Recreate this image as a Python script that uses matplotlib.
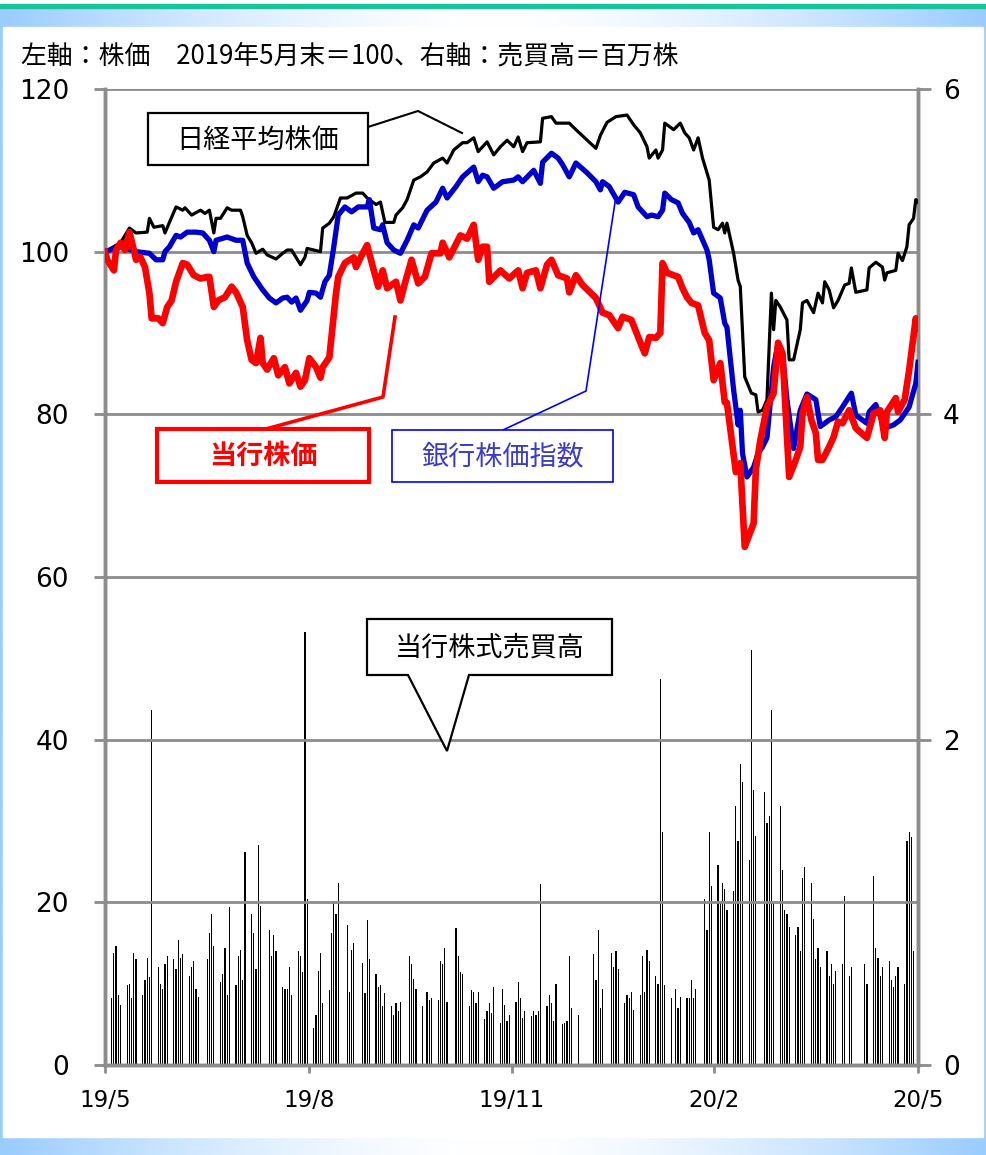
import numpy as np
import pandas as pd
import matplotlib
matplotlib.use("Agg")
import matplotlib.pyplot as plt
from matplotlib.patches import Rectangle, Polygon
from matplotlib.lines import Line2D

plt.rcParams['font.family'] = ['Noto Sans CJK JP', 'DejaVu Sans']

# ---------------- data ----------------
start_date = "2019-05-31"
end_date = "2020-05-31"
x_ticks_days = [0, 92, 183, 274, 366]
x_tick_labels = ["19/5", "19/8", "19/11", "20/2", "20/5"]

# Nikkei average (index, 2019/5 end = 100): day offset from 2019-05-31, value
nikkei_day = [0, 7, 11, 14, 19, 20, 22, 26, 27, 29, 32, 35, 36, 39, 43, 45, 47, 49, 50, 52,
              55, 57, 61, 62, 64, 66, 68, 71, 73, 77, 80, 82, 84, 86, 88, 90, 91, 94, 97, 98,
              101, 103, 106, 109, 113, 116, 118, 122, 124, 126, 130, 131, 134, 136, 139, 142, 145, 148, 152, 154,
              157, 161, 163, 166, 168, 172, 175, 178, 181, 184, 186, 188, 190, 196, 197, 201, 203, 209, 212, 221,
              223, 226, 230, 235, 238, 241, 244, 245, 248, 249, 251, 252, 256, 259, 261, 263, 265, 267, 269, 272,
              274, 276, 278, 279, 280, 283, 285, 286, 288, 291, 293, 294, 296, 298, 300, 301, 302, 304, 307, 308,
              310, 313, 314, 316, 319, 321, 323, 324, 326, 328, 330, 333, 335, 336, 338, 343, 344, 347, 350, 351,
              352, 356, 357, 359, 361, 362, 364, 365, 366]
nikkei_val = [100.0, 101.1, 102.9, 102.3, 102.4, 104.1, 103.0, 103.2, 102.3, 103.6, 105.5, 105.1, 105.4, 104.5, 105.1, 104.7, 105.1, 102.3, 104.1, 104.1,
              105.4, 105.1, 105.1, 104.3, 102.0, 101.1, 99.8, 100.3, 99.6, 99.1, 99.8, 100.2, 100.2, 99.3, 98.4, 99.3, 100.4, 100.2, 100.0, 102.9,
              103.5, 104.3, 106.6, 106.6, 107.2, 107.2, 106.6, 105.8, 106.1, 103.6, 103.6, 104.5, 105.4, 106.4, 108.8, 109.2, 109.8, 110.9, 111.5, 110.9,
              112.5, 113.4, 113.4, 114.0, 112.3, 113.5, 111.9, 112.9, 113.7, 112.9, 114.1, 112.3, 113.4, 113.5, 116.4, 116.6, 115.8, 115.8, 115.0, 112.7,
              114.3, 115.9, 116.6, 116.8, 115.6, 114.6, 112.9, 111.5, 112.5, 111.5, 112.5, 115.8, 115.0, 115.8, 114.6, 114.0, 112.5, 114.0, 111.5, 108.8,
              103.0, 102.7, 103.5, 102.3, 103.5, 99.8, 96.5, 95.7, 84.6, 82.6, 82.4, 80.3, 80.5, 81.8, 94.9, 90.4, 94.0, 93.2, 91.6, 86.7,
              86.7, 90.4, 93.7, 94.0, 92.5, 94.9, 93.7, 96.3, 95.3, 93.1, 94.0, 95.9, 96.1, 98.0, 95.0, 95.3, 98.0, 98.7, 98.1, 96.5,
              97.4, 97.7, 99.8, 98.9, 100.6, 103.3, 104.1, 106.4, 106.1]

# Bank stock index
bank_day = [0, 7, 14, 20, 23, 26, 27, 29, 32, 34, 37, 41, 44, 47, 49, 50, 55, 59, 62, 64,
            67, 71, 74, 77, 80, 82, 84, 86, 88, 91, 92, 95, 97, 99, 101, 103, 105, 108, 111, 114,
            118, 119, 121, 124, 125, 127, 130, 133, 136, 139, 141, 145, 149, 152, 154, 158, 161, 166, 168, 170,
            172, 175, 179, 184, 186, 188, 193, 196, 197, 201, 204, 206, 209, 212, 217, 221, 223, 224, 227, 231,
            234, 238, 240, 244, 246, 249, 251, 252, 255, 258, 260, 263, 265, 267, 271, 272, 274, 277, 279, 280,
            283, 285, 286, 287, 289, 292, 294, 296, 298, 301, 303, 305, 307, 310, 313, 316, 320, 322, 326, 329,
            332, 336, 338, 343, 344, 347, 351, 355, 358, 359, 362, 365, 366]
bank_val = [100.0, 100.6, 100.0, 99.8, 99.0, 99.0, 100.0, 100.6, 102.0, 101.8, 102.4, 102.4, 102.3, 101.4, 100.0, 101.4, 101.8, 101.4, 101.4, 98.6,
            96.9, 95.3, 94.3, 93.7, 94.3, 94.4, 93.8, 94.3, 92.8, 94.0, 95.0, 94.9, 94.4, 96.3, 97.1, 100.6, 104.5, 105.5, 104.9, 105.5,
            105.5, 106.4, 102.9, 102.7, 103.3, 101.1, 100.2, 99.8, 101.4, 103.3, 102.9, 105.1, 106.1, 107.8, 106.6, 108.0, 109.2, 110.4, 108.6, 109.4,
            109.2, 107.8, 108.6, 108.8, 109.2, 108.6, 110.0, 108.4, 111.0, 112.1, 111.5, 110.7, 109.2, 110.9, 109.7, 108.6, 107.6, 108.6, 108.0, 106.1,
            107.3, 107.0, 105.5, 104.3, 104.5, 104.3, 105.1, 107.2, 106.4, 106.0, 104.7, 103.6, 102.3, 102.7, 100.2, 99.0, 94.9, 94.3, 91.2, 90.7,
            83.0, 78.7, 80.5, 75.2, 72.3, 73.5, 75.2, 76.0, 77.1, 85.8, 88.8, 87.5, 81.8, 75.8, 80.5, 82.5, 81.8, 78.5, 79.3, 79.7,
            80.9, 82.6, 79.9, 78.9, 80.3, 81.2, 78.3, 78.7, 79.3, 79.7, 80.9, 83.8, 86.4]

# Own bank stock
own_day = [0, 1, 4, 5, 7, 9, 11, 13, 14, 16, 18, 20, 21, 24, 26, 28, 30, 32, 35, 37,
           40, 43, 46, 47, 49, 51, 54, 57, 59, 62, 64, 66, 68, 70, 71, 73, 76, 78, 81, 83,
           86, 88, 90, 92, 95, 97, 98, 101, 104, 105, 108, 112, 113, 116, 118, 121, 123, 125, 127, 131,
           133, 135, 138, 141, 144, 147, 151, 152, 155, 160, 163, 166, 168, 170, 172, 173, 178, 182, 186, 188,
           190, 194, 196, 199, 201, 204, 208, 209, 212, 215, 221, 224, 227, 231, 233, 237, 240, 243, 245, 248,
           250, 251, 253, 258, 260, 262, 264, 267, 270, 272, 274, 277, 279, 280, 284, 286, 288, 292, 293, 295,
           298, 301, 303, 305, 308, 311, 313, 314, 316, 318, 320, 321, 323, 326, 328, 330, 332, 335, 338, 343,
           346, 349, 351, 352, 356, 357, 360, 362, 365, 366]
own_val = [100.0, 99.0, 97.7, 100.2, 101.1, 100.2, 102.4, 100.2, 99.0, 99.3, 98.1, 94.9, 91.8, 91.8, 91.2, 93.2, 94.0, 96.3, 98.6, 98.4,
           97.1, 96.7, 96.9, 96.9, 93.2, 94.0, 94.4, 95.7, 95.0, 93.2, 89.1, 86.7, 86.3, 89.4, 86.3, 85.5, 86.9, 84.8, 85.8, 83.8,
           85.1, 83.4, 84.2, 86.9, 85.8, 84.5, 85.8, 87.0, 94.9, 96.9, 98.6, 99.3, 98.1, 99.8, 100.8, 97.7, 95.7, 97.7, 95.5, 96.3,
           94.0, 96.1, 99.0, 96.1, 96.9, 99.8, 99.8, 101.1, 99.3, 102.0, 101.6, 103.3, 99.0, 100.6, 100.6, 96.3, 97.7, 96.7, 97.7, 95.5,
           97.4, 97.7, 95.5, 98.4, 99.0, 97.1, 96.7, 95.0, 97.1, 95.9, 94.3, 92.5, 92.2, 90.6, 92.0, 91.6, 89.5, 87.5, 89.5, 89.4,
           90.0, 98.6, 97.4, 96.9, 95.5, 94.4, 93.7, 93.4, 90.0, 89.1, 84.2, 86.3, 81.5, 81.4, 72.9, 74.0, 63.7, 66.6, 73.2, 76.8,
           80.9, 82.6, 88.8, 87.5, 72.3, 74.4, 76.0, 80.1, 82.1, 79.3, 77.7, 74.4, 74.4, 76.0, 77.2, 79.1, 78.9, 80.5, 78.3, 77.1,
           80.1, 80.5, 77.1, 80.3, 82.0, 80.3, 81.8, 85.4, 91.8, 90.6]

# Tokyo market holidays within the period (no trading -> no volume bar)
market_holidays = ["2019-07-15", "2019-08-12", "2019-09-16", "2019-09-23", "2019-10-14", "2019-10-22",
                   "2019-11-04", "2019-12-31", "2020-01-01", "2020-01-02", "2020-01-03", "2020-01-13",
                   "2020-02-11", "2020-02-24", "2020-03-20", "2020-04-29", "2020-05-04", "2020-05-05",
                   "2020-05-06"]

# Own stock trading volume (million shares), one value per trading day from 2019-06-03
volume = [0.41, 0.69, 0.73, 0.43, 0.37,
          0.49, 0.50, 0.41, 0.69, 0.65,
          0.43, 0.52, 0.66, 0.54, 2.18,
          0.60, 0.50, 0.47, 0.62, 0.67,
          0.65, 0.59, 0.77, 0.66, 0.68,
          0.55, 0.60, 0.64, 0.47, 0.42,
          0.65, 0.81, 0.93, 0.73,
          0.51, 0.56, 0.72, 0.43, 0.97,
          0.49, 0.67, 0.71, 0.52, 1.31,
          0.93, 0.81, 0.59, 1.35, 0.98,
          0.83, 0.67, 0.80, 0.70,
          0.48, 0.47, 0.47, 0.60, 0.43,
          0.70, 0.67, 0.57, 2.66, 1.02,
          0.23, 0.31, 0.58, 0.69, 0.38,
          0.46, 0.81, 1.00, 0.93, 1.12,
          0.86, 0.45, 0.71, 0.75,
          0.63, 0.44, 0.89, 0.65,
          0.56, 0.48, 0.49, 0.36, 0.44,
          0.36, 0.31, 0.38, 0.33, 0.39,
          0.67, 0.62, 0.53, 0.47,
          0.36, 0.45, 0.40, 0.41,
          0.40, 0.64, 0.62, 0.72, 0.39,
          0.84, 0.67, 0.57, 0.56,
          0.36, 0.46, 0.45, 0.38, 0.45,
          0.28, 0.33, 0.38, 0.32, 0.48,
          0.26, 0.47, 0.37, 0.27, 0.31,
          0.39, 0.51, 0.41, 0.29, 0.33,
          0.30, 0.33, 0.31, 0.33, 1.11,
          0.36, 0.43, 0.38, 0.27, 0.50,
          0.25, 0.26, 0.27, 0.67, 0.35,
          0.31,
          0.68, 0.52, 0.83, 0.35, 0.47,
          0.69, 0.60, 0.70, 0.59,
          0.38, 0.43, 0.41, 0.45, 0.34,
          0.43, 0.67, 0.45, 0.71, 0.64,
          0.55, 0.50, 2.37, 1.43, 0.49,
          0.41, 0.47, 0.35, 0.42,
          0.41, 0.41, 0.52, 0.41, 0.47,
          1.02, 0.83, 1.43, 1.10,
          1.23, 1.00, 1.12, 1.08, 0.95,
          1.07, 1.59, 1.38, 1.85, 1.74,
          1.26, 2.55, 1.69, 1.41,
          1.68, 1.49, 1.53, 2.18, 1.00,
          1.59, 1.20, 0.95, 0.93, 0.85,
          0.80, 0.85, 0.70, 1.15, 1.22,
          1.12, 0.90, 0.65, 0.72, 0.60,
          0.70, 0.55, 0.62, 0.50, 0.58,
          0.62, 1.04, 0.55, 0.60,
          0.62, 0.50,
          1.16, 0.72, 0.66, 0.55, 0.60,
          0.64, 0.52, 0.48, 0.55, 0.60,
          0.50, 1.38, 1.43, 1.40, 0.70]

# ---------------- figure ----------------
W, H = 987, 1155
fig = plt.figure(figsize=(W / 100, H / 100), dpi=100)

def fx(x):
    return x / W

def fy(y):
    return 1 - y / H

# background frame with horizontal blue-white-blue gradient
bg = fig.add_axes([0, 0, 1, 1], zorder=-10)
bg.set_axis_off()
g = np.abs(np.linspace(-1, 1, 400)) ** 1.6
c0 = np.array([1.0, 1.0, 1.0])
c1 = np.array([0.60, 0.80, 1.0])
grad = (c0[None, :] * (1 - g[:, None]) + c1[None, :] * g[:, None])[None, :, :]
bg.imshow(grad, extent=[0, 1, 0, fy(4)], aspect='auto', transform=bg.transAxes)
bg.set_xlim(0, 1)
bg.set_ylim(0, 1)
bg.add_patch(Rectangle((0, fy(4)), 1, 4 / H, transform=bg.transAxes, color='white', zorder=2))
bg.add_patch(Rectangle((0, fy(8)), 1, 4 / H, transform=bg.transAxes, color='#19C39B', zorder=3))
bg.add_patch(Rectangle((fx(3), fy(1137)), (983 - 3) / W, (1137 - 27) / H,
                       transform=bg.transAxes, color='white', zorder=3))

# title
fig.text(fx(21), fy(56), "左軸：株価　2019年5月末＝100、右軸：売買高＝百万株",
         fontsize=18.6, va='center', ha='left', color='black')

# main axes
ax = fig.add_axes([fx(105), 1 - 1065 / H, (918 - 105) / W, (1065 - 89) / H])
ax2 = ax.twinx()

grid_col = '#8c8c8c'
ax.set_xlim(0, 366)
ax.set_ylim(0, 120)
ax2.set_ylim(0, 6)
ax.set_yticks([0, 20, 40, 60, 80, 100, 120])
ax2.set_yticks([0, 2, 4, 6])
ax.set_xticks(x_ticks_days)
ax.set_xticklabels(x_tick_labels)
ax.grid(axis='y', color=grid_col, linewidth=2.0)
ax.set_axisbelow(True)

for a in (ax, ax2):
    for s in a.spines.values():
        s.set_color(grid_col)
        s.set_linewidth(2.5)
    a.spines['top'].set_visible(False)
    a.patch.set_visible(False)
ax.tick_params(axis='y', length=8, width=2, color=grid_col, labelsize=19, pad=18)
ax.tick_params(axis='x', length=6, width=2, color=grid_col, labelsize=16.5, pad=11)
ax2.tick_params(axis='y', length=9, width=2, color=grid_col, labelsize=19, pad=9)
for lab in ax.get_yticklabels() + ax2.get_yticklabels() + ax.get_xticklabels():
    lab.set_family('DejaVu Sans')

# volume bars (right axis)
trade_days = pd.bdate_range("2019-06-03", "2020-05-29")
trade_days = trade_days[~trade_days.isin(pd.to_datetime(market_holidays))]
vol_x = (trade_days - pd.Timestamp(start_date)).days.values[:len(volume)]
ax2.bar(vol_x, volume[:len(vol_x)], width=0.55, color='black', linewidth=0, zorder=2)

# price lines (left axis) drawn above bars
ax.set_zorder(ax2.get_zorder() + 1)
ax.plot(nikkei_day, nikkei_val, color='black', linewidth=2.3, zorder=3, solid_joinstyle='round')
ax.plot(bank_day, bank_val, color='#0000CC', linewidth=3.8, zorder=4, solid_joinstyle='round')
ax.plot(own_day, own_val, color='#FF0000', linewidth=4.8, zorder=5, solid_joinstyle='round')

# ---------------- annotations (figure pixel coords) ----------------
def box(x0, y0, x1, y1, ec, lw):
    fig.patches.append(Rectangle((fx(x0), fy(y1)), fx(x1) - fx(x0), fy(y0) - fy(y1),
                                 transform=fig.transFigure, facecolor='white', edgecolor=ec,
                                 linewidth=lw, zorder=20))

def polyline(pts, color, lw):
    fig.lines.append(Line2D([fx(p[0]) for p in pts], [fy(p[1]) for p in pts],
                            transform=fig.transFigure, color=color, linewidth=lw, zorder=19))

# Nikkei label
polyline([(368, 127), (418, 111), (462, 133)], 'black', 1.5)
box(148, 113, 368, 165, 'black', 1.6)
fig.text(fx(258), fy(140), "日経平均株価", fontsize=19.5, ha='center', va='center', zorder=21)

# own stock label
polyline([(266, 429), (383, 397), (395, 317)], '#FF0000', 2.6)
box(157, 429, 369, 482, '#FF0000', 3.0)
fig.text(fx(263), fy(456), "当行株価", fontsize=19.5, fontweight='bold', color='#FF0000',
         ha='center', va='center', zorder=21)

# bank index label
polyline([(503, 430), (586, 391), (616, 196)], '#0000FF', 1.2)
box(392, 430, 613, 482, '#0000FF', 1.2)
fig.text(fx(503), fy(457), "銀行株価指数", fontsize=19.5, color='#3A3ACC',
         ha='center', va='center', zorder=21)

# volume callout
call = [(367, 619), (612, 619), (612, 675), (469, 675), (447, 751), (408, 675), (367, 675)]
fig.patches.append(Polygon([(fx(p[0]), fy(p[1])) for p in call], closed=True,
                           transform=fig.transFigure, facecolor='white', edgecolor='black',
                           linewidth=1.6, zorder=20))
fig.text(fx(490), fy(648), "当行株式売買高", fontsize=19.5, ha='center', va='center', zorder=21)

fig.savefig("out.png", dpi=100)
